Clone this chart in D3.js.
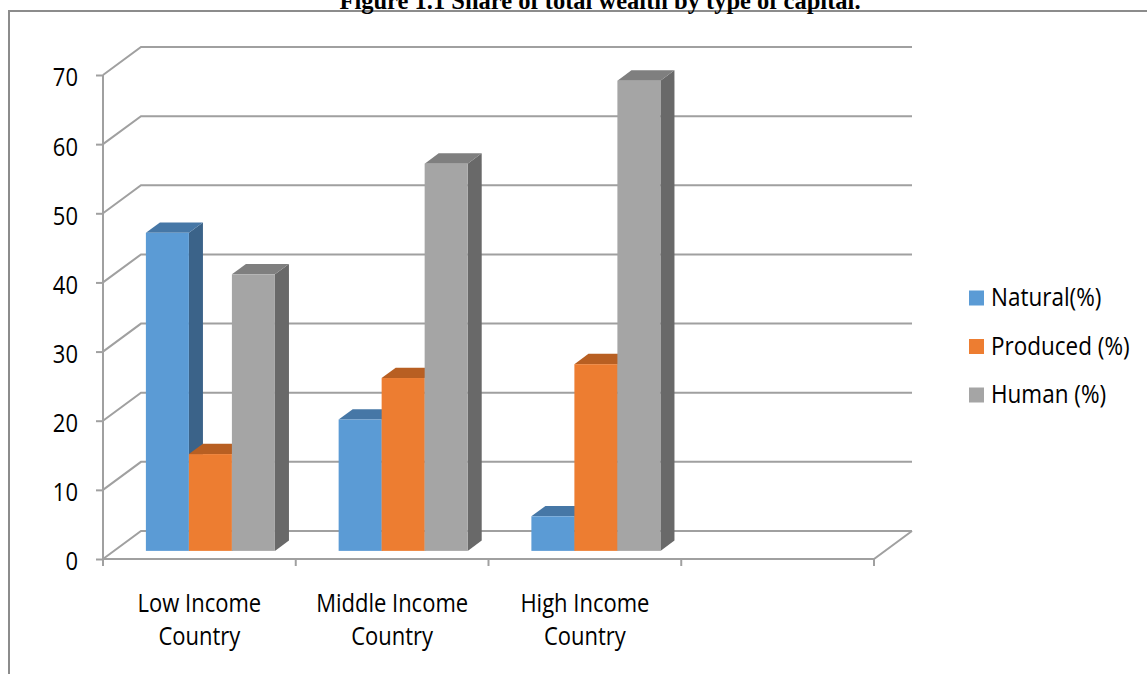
<!DOCTYPE html>
<html>
<head>
<meta charset="utf-8">
<script src="https://cdn.jsdelivr.net/npm/d3@7"></script>
<style>
  html, body { margin: 0; padding: 0; background: #fff; }
  svg { display: block; }
</style>
</head>
<body>
<svg id="chart" width="1147" height="674"></svg>
<script>
// ---- data ----
const categories = ["Low Income Country", "Middle Income Country", "High Income Country", ""];
const seriesNames = ["Natural(%)", "Produced (%)", "Human (%)"];
const natural  = [46, 19, 5];
const produced = [14, 25, 27];
const human    = [40, 56, 68];
const yTicks = [0, 10, 20, 30, 40, 50, 60, 70];

const seriesValues = [natural, produced, human];
const frontColors = ["#5B9BD5", "#ED7D31", "#A5A5A5"];
const topColors   = ["#4677A6", "#B85F22", "#7F7F7F"];
const sideColors  = ["#3B6389", "#9C501C", "#696969"];

const svg = d3.select("#chart");

// ---- geometry ----
const left = 103, right = 874, floorY = 559;
const depth = { dx: 38, dy: -28 };      // full depth of the 3D box
const barFront = 0.29, barDepth = 0.37; // fractions of full depth

const y = d3.scaleLinear().domain([0, 70]).range([floorY, 75]);
const x0 = d3.scaleBand().domain(categories).range([left, right]).paddingInner(0).paddingOuter(0);
const x1 = d3.scaleBand().domain(seriesNames).range([0, x0.bandwidth()]).paddingInner(0).paddingOuter(0.741);

const gridColor = "#A0A0A0";
const sansFont = "'Open Sans', sans-serif";

// chart border
svg.append("path")
  .attr("d", "M9,674 L9,11 L1147,11")
  .attr("fill", "none").attr("stroke", "#8C8C8C").attr("stroke-width", 2);

// title (partly cut off at the top, as in the source)
svg.append("text")
  .attr("x", 600).attr("y", 9)
  .attr("text-anchor", "middle")
  .attr("font-family", "'Liberation Serif', 'Times New Roman', serif")
  .attr("font-weight", "bold").attr("font-size", 24.5)
  .attr("fill", "#000")
  .text("Figure 1.1 Share of total wealth by type of capital.");

// gridlines: left wall diagonal + back wall horizontal
const grid = svg.append("g").attr("fill", "none").attr("stroke", gridColor).attr("stroke-width", 2);
yTicks.forEach(t => {
  const yy = y(t);
  grid.append("path")
    .attr("d", `M${left},${yy} L${left + depth.dx},${yy + depth.dy} L${right + depth.dx},${yy + depth.dy}`);
});
// floor front line & right diagonal
grid.append("path").attr("d", `M${left},${floorY} L${right},${floorY} L${right + depth.dx},${floorY + depth.dy}`);

// y axis (front left vertical) with ticks
const yAxis = d3.axisLeft(y).tickValues(yTicks).tickSize(7).tickPadding(18).tickFormat(d3.format("d"));
const yg = svg.append("g").attr("transform", `translate(${left},0)`).call(yAxis);
yg.select(".domain").attr("stroke", gridColor).attr("stroke-width", 2).attr("d", `M0,${y(70)}V${floorY}`);
yg.selectAll(".tick line").attr("stroke", gridColor).attr("stroke-width", 2);
yg.selectAll(".tick text")
  .attr("font-family", sansFont).attr("font-size", 22).attr("fill", "#000")
  .attr("dy", "0.36em")
  .attr("y", 2 / 1.12)
  .attr("transform", "scale(1,1.12)");

// x axis ticks (front floor)
const xTickPositions = categories.map(c => x0(c)).concat([right]);
svg.append("g").selectAll("line").data(xTickPositions).join("line")
  .attr("x1", d => d).attr("x2", d => d)
  .attr("y1", floorY).attr("y2", floorY + 7)
  .attr("stroke", gridColor).attr("stroke-width", 2);

// category labels
const catG = svg.append("g");
categories.forEach(c => {
  if (!c) return;
  const words = c.split(" ");
  const lines = [words.slice(0, 2).join(" "), words.slice(2).join(" ")];
  const cx = x0(c) + x0.bandwidth() / 2;
  lines.forEach((ln, i) => {
    catG.append("text")
      .attr("text-anchor", "middle")
      .attr("font-family", sansFont).attr("font-size", 22).attr("fill", "#000")
      .attr("transform", `translate(${cx},${612 + i * 33}) scale(1,1.12)`)
      .text(ln);
  });
});

// bars (3D)
const offF = { dx: depth.dx * barFront, dy: depth.dy * barFront };
const offD = { dx: depth.dx * barDepth, dy: depth.dy * barDepth };
const barsG = svg.append("g");
categories.forEach((c, ci) => {
  seriesNames.forEach((s, si) => {
    const v = seriesValues[si][ci];
    if (v === undefined) return;
    const bx = x0(c) + x1(s) + offF.dx;
    const bw = x1.bandwidth();
    const by0 = floorY + offF.dy;
    const byTop = y(v) + offF.dy;
    // side face
    barsG.append("path")
      .attr("d", `M${bx + bw},${by0} L${bx + bw + offD.dx},${by0 + offD.dy} L${bx + bw + offD.dx},${byTop + offD.dy} L${bx + bw},${byTop} Z`)
      .attr("fill", sideColors[si]);
    // top face
    barsG.append("path")
      .attr("d", `M${bx},${byTop} L${bx + offD.dx},${byTop + offD.dy} L${bx + bw + offD.dx},${byTop + offD.dy} L${bx + bw},${byTop} Z`)
      .attr("fill", topColors[si]);
    // front face
    barsG.append("rect")
      .attr("x", bx).attr("y", byTop)
      .attr("width", bw).attr("height", by0 - byTop)
      .attr("fill", frontColors[si]);
  });
});

// legend
const legend = svg.append("g");
seriesNames.forEach((s, i) => {
  const cy = 298 + i * 48.5;
  legend.append("rect")
    .attr("x", 969).attr("y", cy - 7.5).attr("width", 15).attr("height", 15)
    .attr("fill", frontColors[i]);
  legend.append("text")
    .attr("font-family", sansFont).attr("font-size", 22.5).attr("fill", "#000")
    .attr("transform", `translate(991,${cy + 8}) scale(1,1.12)`)
    .text(s);
});
</script>
</body>
</html>
